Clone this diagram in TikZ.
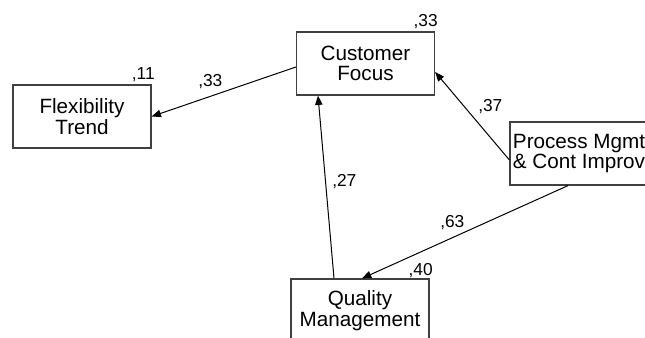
\documentclass[tikz,border=0pt]{standalone}
\usepackage{fontspec}
\setmainfont{Liberation Sans}
\usetikzlibrary{arrows.meta,calc}
\begin{document}
\begin{tikzpicture}[x=0.75pt,y=-0.75pt,
  var/.style={draw=black!75, line width=0.9pt, fill=white, minimum width=103.5pt, minimum height=47.25pt,
    inner sep=0pt, align=center, font=\fontsize{15.5}{15.5}\selectfont},
  coef/.style={font=\fontsize{13}{13}\selectfont, inner sep=0pt},
  path/.style={draw=black, line width=0.75pt, -{Triangle[length=7pt,width=5.5pt]}}]
\useasboundingbox (0,0) rectangle (645,338);
\clip (0,0) rectangle (645,338);
\fill[white] (0,0) rectangle (645,338);
\node[var] (FT) at (82,116.5) {Flexibility\\Trend};
\node[var] (CF) at (365.5,63.5) {Customer\\Focus};
\node[var] (PM) at (579,153.5) {Process Mgmt\\\& Cont Improv};
\node[var] (QM) at (360,310.5) {Quality\\Management};
\draw[path] ($(CF.west)+(0,3.5)$) -- (FT.east);
\draw[path] ($(PM.west)+(0,6.5)$) -- ($(CF.east)+(0,8.5)$);
\draw[path] ($(QM.north)+(-26,0)$) -- ($(CF.south)+(-47.5,0)$);
\draw[path] ($(PM.south)+(-11,0)$) -- ($(QM.north)+(2,0)$);
\node[coef, anchor=base east] (r1) at (155,80) {,11};
\node[coef, anchor=base east] (r2) at (438,27) {,33};
\node[coef, anchor=base east] (r3) at (433,275) {,40};
\node[coef, anchor=base west] (p1) at (198,87) {,33};
\node[coef, anchor=base west] (p2) at (478,112) {,37};
\node[coef, anchor=base west] (p3) at (332,187) {,27};
\node[coef, anchor=base west] (p4) at (440,228) {,63};
\end{tikzpicture}
\end{document}
